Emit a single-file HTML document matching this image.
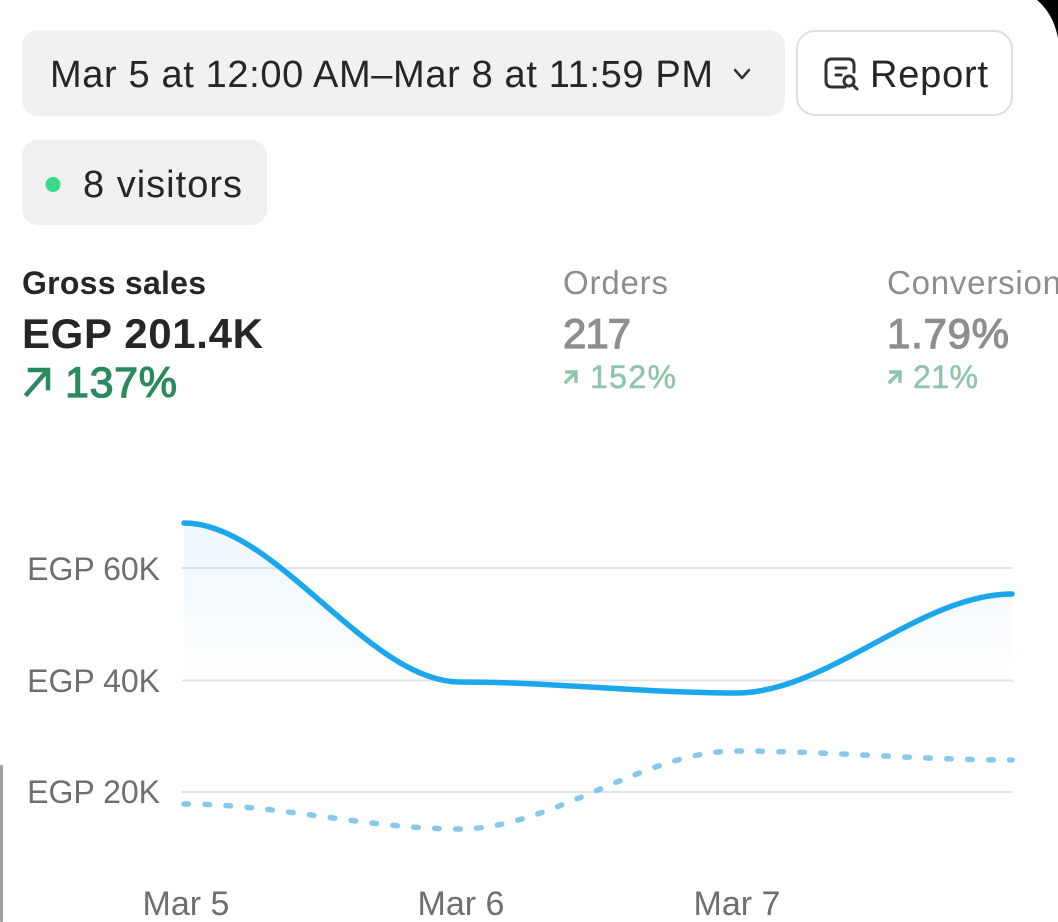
<!DOCTYPE html>
<html>
<head>
<meta charset="utf-8">
<style>
  html, body { margin: 0; padding: 0; background: #ffffff; }
  body { width: 1058px; height: 922px; overflow: hidden; }
  svg { display: block; }
  text { font-family: "Liberation Sans", Arial, sans-serif; }
</style>
</head>
<body>
<svg width="1058" height="922" viewBox="0 0 1058 922" xmlns="http://www.w3.org/2000/svg">
  <defs>
    <linearGradient id="areaGrad" gradientUnits="userSpaceOnUse" x1="0" y1="523" x2="0" y2="695">
      <stop offset="0" stop-color="#1a96e6" stop-opacity="0.075"/>
      <stop offset="1" stop-color="#1a96e6" stop-opacity="0"/>
    </linearGradient>
  </defs>

  <rect x="0" y="0" width="1058" height="922" fill="#ffffff"/>

  <!-- top-right black corner -->
  <path d="M1037,0 C1046,8 1054,18 1058,38 L1058,0 Z" fill="#000000"/>

  <!-- left gray bar -->
  <rect x="0" y="765" width="3" height="157" rx="1" fill="#9e9e9e"/>

  <!-- Date range pill -->
  <rect x="22" y="30" width="763" height="86" rx="16" fill="#f1f1f2"/>
  <text x="50" y="87" font-size="38" fill="#262626" textLength="663" lengthAdjust="spacing">Mar 5 at 12:00 AM–Mar 8 at 11:59 PM</text>
  <polyline points="735,70 742,78 749,70" fill="none" stroke="#333333" stroke-width="2.5" stroke-linecap="round" stroke-linejoin="round"/>

  <!-- Report button -->
  <rect x="797" y="31" width="215" height="84" rx="18" fill="#ffffff" stroke="#dedede" stroke-width="2"/>
  <path d="M845,87 L832,87 Q826,87 826,81 L826,65 Q826,59 832,59 L848,59 Q854,59 854,65 L854,72" fill="none" stroke="#333333" stroke-width="3" stroke-linecap="round" stroke-linejoin="round"/>
  <path d="M836,68 H846 M836,75 H841" stroke="#333333" stroke-width="3" stroke-linecap="round"/>
  <circle cx="849" cy="81" r="5" fill="none" stroke="#333333" stroke-width="3"/>
  <path d="M853,85 L857,89" stroke="#333333" stroke-width="3" stroke-linecap="round"/>
  <text x="870" y="87" font-size="38" fill="#262626" textLength="118" lengthAdjust="spacing">Report</text>

  <!-- Visitors pill -->
  <rect x="22" y="140" width="245" height="85" rx="16" fill="#f0f0f0"/>
  <circle cx="53" cy="184.5" r="7.5" fill="#3ad98b"/>
  <text x="83" y="197" font-size="38" fill="#262626" textLength="159" lengthAdjust="spacing">8 visitors</text>

  <!-- Metrics -->
  <text x="22" y="294" font-size="32" font-weight="bold" fill="#262626" textLength="184" lengthAdjust="spacing">Gross sales</text>
  <text x="22" y="348" font-size="42" font-weight="bold" fill="#262626" textLength="241" lengthAdjust="spacing">EGP 201.4K</text>
  <path d="M27,394 L47,371 M30,370 H48 V388" fill="none" stroke="#2b8a5c" stroke-width="4.5" stroke-linecap="square" stroke-linejoin="miter"/>
  <text x="65" y="397" font-size="43" fill="#2b8a5c" stroke="#2b8a5c" stroke-width="1.2" textLength="112" lengthAdjust="spacing">137%</text>

  <text x="563" y="294" font-size="33" fill="#8d8d8d" textLength="105" lengthAdjust="spacing">Orders</text>
  <text x="563" y="348" font-size="42" fill="#8e8e8e" stroke="#8e8e8e" stroke-width="1.2" textLength="68" lengthAdjust="spacing">217</text>
  <path d="M566,382 L575,373 M567,372 H576 V381" fill="none" stroke="#8fc5aa" stroke-width="3.5" stroke-linecap="square"/>
  <text x="590" y="388" font-size="32" fill="#8fc5aa" stroke="#8fc5aa" stroke-width="0.5" textLength="86" lengthAdjust="spacing">152%</text>

  <text x="887" y="294" font-size="33" fill="#8d8d8d" textLength="174" lengthAdjust="spacing">Conversion</text>
  <text x="887" y="348" font-size="42" fill="#8e8e8e" stroke="#8e8e8e" stroke-width="1.2" textLength="122" lengthAdjust="spacing">1.79%</text>
  <path d="M890,382 L899,373 M891,372 H900 V381" fill="none" stroke="#8fc5aa" stroke-width="3.5" stroke-linecap="square"/>
  <text x="913" y="388" font-size="32" fill="#8fc5aa" stroke="#8fc5aa" stroke-width="0.5" textLength="65" lengthAdjust="spacing">21%</text>

  <!-- Chart gridlines -->
  <line x1="182" y1="568" x2="1013" y2="568" stroke="#e4e4e6" stroke-width="2"/>
  <line x1="182" y1="680.5" x2="1013" y2="680.5" stroke="#e4e4e6" stroke-width="2"/>
  <line x1="182" y1="792" x2="1013" y2="792" stroke="#e4e4e6" stroke-width="2"/>

  <!-- Y labels -->
  <text x="160" y="580" font-size="32" fill="#6e6e73" text-anchor="end">EGP 60K</text>
  <text x="160" y="692" font-size="32" fill="#6e6e73" text-anchor="end">EGP 40K</text>
  <text x="160" y="803" font-size="32" fill="#6e6e73" text-anchor="end">EGP 20K</text>

  <!-- X labels -->
  <text x="186" y="915" font-size="34" fill="#6e6e73" text-anchor="middle">Mar 5</text>
  <text x="461" y="915" font-size="34" fill="#6e6e73" text-anchor="middle">Mar 6</text>
  <text x="737" y="915" font-size="34" fill="#6e6e73" text-anchor="middle">Mar 7</text>

  <!-- Area fill -->
  <path d="M184,523 C276,523 368,682 460,682 C552,682 644,693 736,693 C828,693 920,594 1012,594 L1012,700 L184,700 Z" fill="url(#areaGrad)"/>

  <!-- Comparison dotted line -->
  <path d="M184,804 C276,804 368,829 460,829 C552,829 644,751 736,751 C828,751 920,760 1012,760" fill="none" stroke="#87c9ea" stroke-width="5.5" stroke-linecap="round" stroke-dasharray="4.5 16.5"/>

  <!-- Main solid line -->
  <path d="M184,523 C276,523 368,682 460,682 C552,682 644,693 736,693 C828,693 920,594 1012,594" fill="none" stroke="#1ba7eb" stroke-width="5.5" stroke-linecap="round" stroke-linejoin="round"/>
</svg>
</body>
</html>
